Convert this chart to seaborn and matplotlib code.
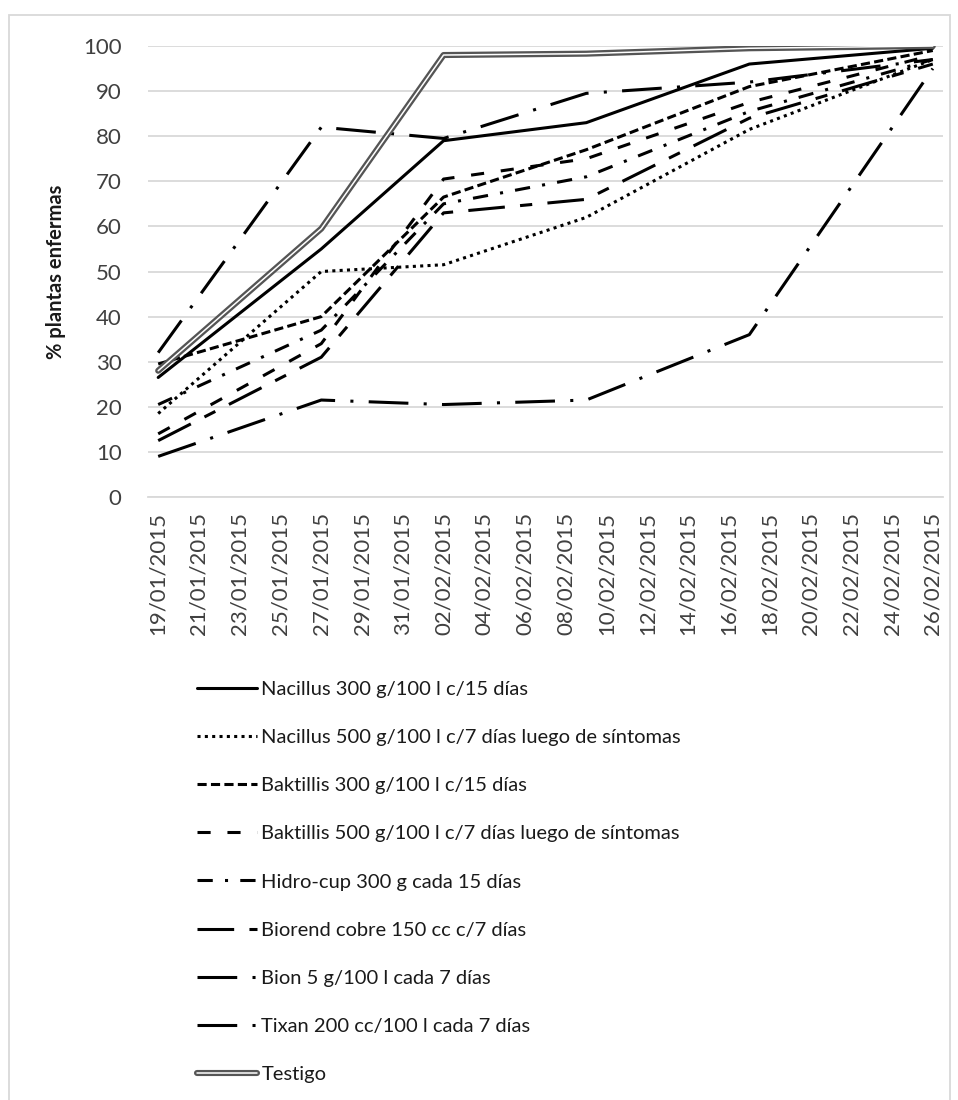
import matplotlib
matplotlib.use("Agg")
import matplotlib.pyplot as plt
import matplotlib.dates as mdates
import matplotlib.patheffects as pe
from matplotlib.patches import Rectangle
import pandas as pd
import seaborn as sns

# fechas de evaluacion
fechas = ['2015-01-19', '2015-01-27', '2015-02-02', '2015-02-09', '2015-02-17', '2015-02-26']

tratamientos = [
    'Nacillus 300 g/100 l c/15 días',
    'Nacillus 500 g/100 l c/7 días luego de síntomas',
    'Baktillis 300 g/100 l c/15 días',
    'Baktillis 500 g/100 l c/7 días luego de síntomas',
    'Hidro-cup 300 g cada 15 días',
    'Biorend cobre 150 cc c/7 días',
    'Bion 5 g/100 l cada 7 días',
    'Tixan 200 cc/100 l cada 7 días',
    'Testigo',
]

# % plantas enfermas
nacillus_300 = [26.5, 55, 79, 83, 96, 99.5]
nacillus_500 = [18.5, 50, 51.5, 62, 81.5, 97]
baktillis_300 = [29.5, 40, 66.5, 77, 91, 99]
baktillis_500 = [14, 34, 70.5, 75, 87.5, 98]
hidro_cup = [20.5, 37, 65, 71, 85.5, 97]
biorend = [12.5, 31, 63, 66, 84, 96]
bion = [32, 82, 79.5, 89.5, 92, 97]
tixan = [9, 21.5, 20.5, 21.5, 36, 95]
testigo = [28, 59.5, 98, 98.3, 99.5, 100]

series = [nacillus_300, nacillus_500, baktillis_300, baktillis_500, hidro_cup,
          biorend, bion, tixan, testigo]

estilos = [
    '-',
    (0, (1, 1.4)),
    (0, (3, 1.4)),
    (0, (4.3, 5.5)),
    (0, (5, 4, 1, 4)),
    (0, (12, 5, 4, 5)),
    (0, (13, 5, 1, 5)),
    (0, (13, 5, 1, 5)),
    '-',
]

sns.set_style("white")
plt.rcParams['font.family'] = ['Lato', 'DejaVu Sans']

fig = plt.figure(figsize=(9.58, 11), dpi=100)
ax = fig.add_axes([148 / 958, 1 - 497 / 1100, (943 - 148) / 958, (497 - 46) / 1100])

x = pd.to_datetime(fechas)
for nombre, vals, ls in zip(tratamientos, series, estilos):
    if nombre == 'Testigo':
        sns.lineplot(x=x, y=vals, ax=ax, color='white', linewidth=1.1, label=nombre,
                     path_effects=[pe.Stroke(linewidth=4.4, foreground='#555555'), pe.Normal()],
                     zorder=5)
    else:
        sns.lineplot(x=x, y=vals, ax=ax, color='black', linewidth=2.2, linestyle=ls,
                     label=nombre, zorder=3)

handles, labels = ax.get_legend_handles_labels()
if ax.get_legend() is not None:
    ax.get_legend().remove()

ax.set_ylim(0, 100)
ax.set_yticks(range(0, 101, 10))
ax.set_xlim(pd.Timestamp('2015-01-18 12:00'), pd.Timestamp('2015-02-26 12:00'))
ticks = pd.date_range('2015-01-19', '2015-02-26', freq='2D')
ax.set_xticks(ticks)
ax.xaxis.set_major_formatter(mdates.DateFormatter('%d/%m/%Y'))
ax.set_xticks(pd.date_range('2015-01-18 12:00', '2015-02-27', freq='2D'), minor=True)
ax.tick_params(axis='x', which='major', length=0, pad=11, labelrotation=90,
               labelsize=16, labelcolor='#404040')
ax.tick_params(axis='x', which='minor', length=5, width=1, color='#d9d9d9', direction='out')
ax.tick_params(axis='y', length=0, pad=19, labelsize=16, labelcolor='#404040')

ax.grid(axis='y', color='#d9d9d9', linewidth=1.3)
ax.grid(axis='x', visible=False)
sns.despine(ax=ax, left=True, top=True, right=True)
ax.spines['bottom'].set_color('#d9d9d9')
ax.spines['bottom'].set_linewidth(1.3)

ax.set_xlabel('')
ax.set_ylabel('% plantas enfermas', fontsize=14.5, fontweight='bold', color='#1a1a1a', labelpad=12)

fig.legend(handles, labels, loc='upper left', bbox_to_anchor=(197 / 958, 1 - 681 / 1100),
           frameon=False, ncol=1, fontsize=14.5, handlelength=3.0, handletextpad=0.2,
           labelspacing=1.54, borderpad=0, borderaxespad=0, labelcolor='#1a1a1a')

fig.add_artist(Rectangle((9 / 958, -0.01), 941 / 958, 1 - 15 / 1100 + 0.01,
                         transform=fig.transFigure, fill=False, edgecolor='#d9d9d9',
                         linewidth=1.3))

fig.savefig('out.png', dpi=100, facecolor='white')
